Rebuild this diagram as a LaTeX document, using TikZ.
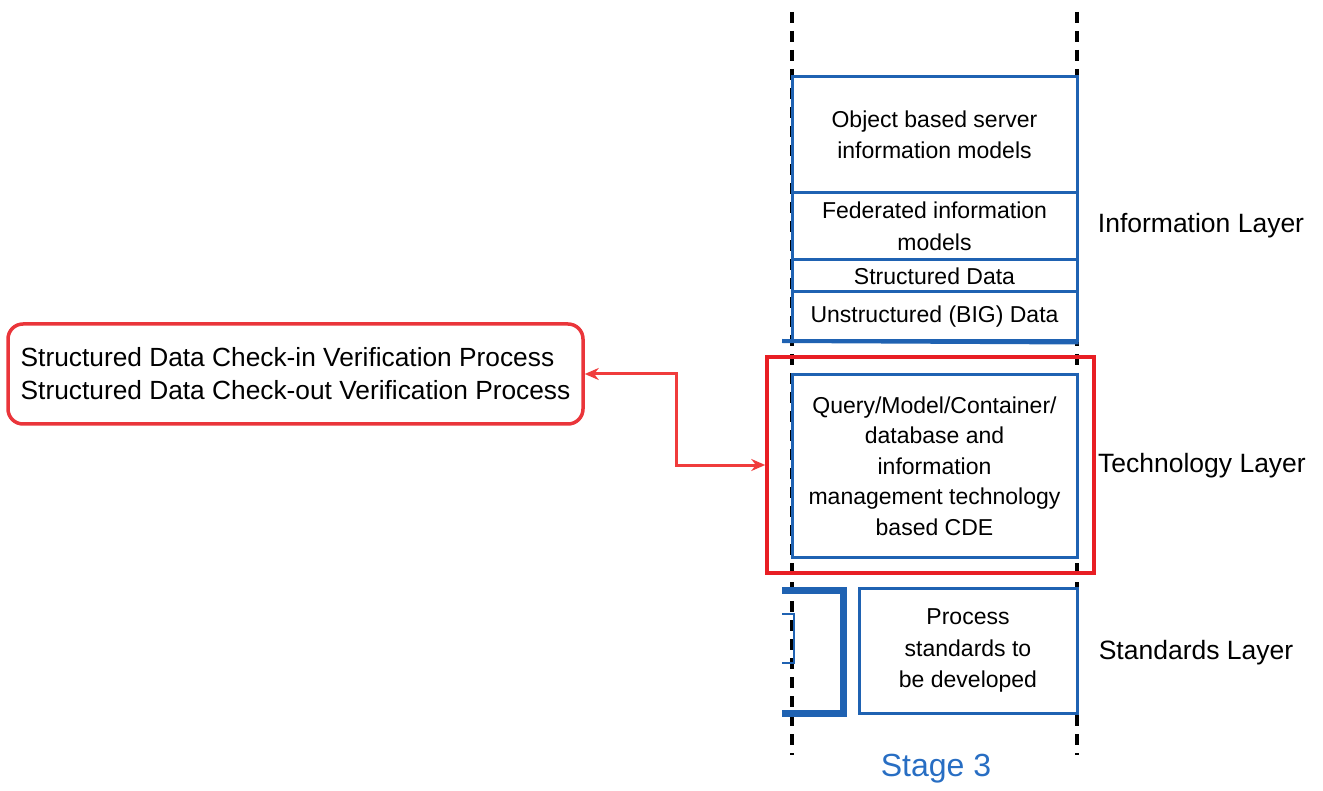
\documentclass[tikz,border=0pt]{standalone}
\usepackage{fontspec}
\setmainfont{Liberation Sans}
\usetikzlibrary{arrows.meta}
\definecolor{layerblue}{RGB}{31,98,178}
\definecolor{stageblue}{RGB}{40,110,195}
\definecolor{framered}{RGB}{232,30,36}
\definecolor{linkred}{RGB}{240,60,60}

\begin{document}
\begin{tikzpicture}[x=1pt,y=-1pt,
  layerbox/.style={draw=layerblue,line width=3pt,fill=white,rectangle,inner sep=0pt,
    align=center,font=\fontsize{23}{31.5}\selectfont},
  layerlabel/.style={anchor=center,font=\fontsize{26.5}{30}\selectfont},
  stageline/.style={black,line width=3.5pt,dash pattern=on 11pt off 8pt}]
\useasboundingbox (0,0) rectangle (1323,791);

% Stage borders
\coordinate (ltop) at (792,12);
\coordinate (lbot) at (792,755);
\coordinate (rtop) at (1077,12);
\coordinate (rbot) at (1077,755);
\draw[stageline] (ltop) -- (lbot);
\draw[stageline] (rtop) -- (rbot);

% Information layer
\node[layerbox,minimum width=285pt,minimum height=116pt] (objmodel) at (934.5,135) {Object based server\\information models};
\node[layerbox,minimum width=285pt,minimum height=67pt] (fedmodel) at (934.5,226.5) {Federated information\\models};
\node[layerbox,minimum width=285pt,minimum height=32pt] (structdata) at (934.5,276) {Structured Data};
\node[layerbox,minimum width=285pt,minimum height=49pt] (bigdata) at (934.5,316.5) {Unstructured (BIG) Data};
\coordinate (bigfoot) at (782,341);
\draw[layerblue,line width=4pt] (bigfoot) -- (bigdata.south east);

% Technology layer
\node[draw=framered,line width=3.5pt,minimum width=327pt,minimum height=216pt] (techframe) at (930.5,465) {};
\node[layerbox,minimum width=285pt,minimum height=182pt,font=\fontsize{23}{30.5}\selectfont] (techbox) at (934.5,466) {Query/Model/Container/\\database and\\information\\management technology\\based CDE};

% Standards layer
\node[layerbox,minimum width=218pt,minimum height=125pt] (stdbox) at (968,650.5) {Process\\standards to\\be developed};
\draw[layerblue,line width=7pt] (782,590) -| (843,713) -- (782,713);
\draw[layerblue,line width=2pt] (782,614) -| (794,663) -- (782,663);

% Layer names
\node[layerlabel] (infolabel) at (1201,226) {Information Layer};
\node[layerlabel] (techlabel) at (1202,466) {Technology Layer};
\node[layerlabel] (stdlabel) at (1196,653) {Standards Layer};
\node[font=\fontsize{32}{36}\selectfont,text=stageblue] (stage) at (936,769) {Stage 3};

% Verification processes
\node[draw=framered!90!white,line width=3.5pt,rounded corners=15pt,minimum width=575pt,minimum height=100pt,
  align=left,inner sep=0pt,font=\fontsize{26.3}{33}\selectfont] (checkproc) at (295.5,374)
  {Structured Data Check-in Verification Process\\Structured Data Check-out Verification Process};
\coordinate (bend) at (676,374);
\draw[linkred,line width=3pt,{Stealth[length=14pt,width=12pt]}-{Stealth[length=14pt,width=12pt]}]
  (checkproc.east) -- (bend) |- (techframe.west);

\end{tikzpicture}
\end{document}
